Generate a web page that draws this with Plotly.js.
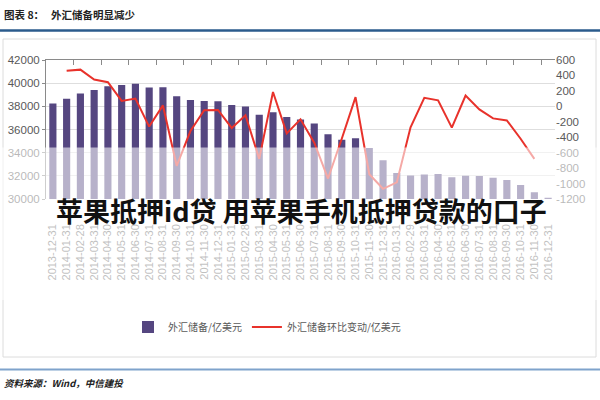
<!DOCTYPE html>
<html>
<head>
<meta charset="utf-8">
<script src="https://cdn.plot.ly/plotly-3.0.1.min.js"></script>
<style>html,body{margin:0;padding:0;background:#fff;}#chart{width:600px;height:400px;}</style>
</head>
<body>
<div id="chart"></div>
<script>
// ---- data ----
const dates = [
  "2013-12-31","2014-01-31","2014-02-28","2014-03-31","2014-04-30","2014-05-31","2014-06-30",
  "2014-07-31","2014-08-31","2014-09-30","2014-10-31","2014-11-30","2014-12-31",
  "2015-01-31","2015-02-28","2015-03-31","2015-04-30","2015-05-31","2015-06-30",
  "2015-07-31","2015-08-31","2015-09-30","2015-10-31","2015-11-30","2015-12-31",
  "2016-01-31","2016-02-29","2016-03-31","2016-04-30","2016-05-31","2016-06-30",
  "2016-07-31","2016-08-31","2016-09-30","2016-10-31","2016-11-30","2016-12-31"
];
const reserves = [
  38250, 38660, 39110, 39420, 39730, 39840, 39960, 39630, 39640, 38880, 38540, 38450, 38430,
  38120, 37990, 37270, 37480, 37080, 36870, 36520, 35580, 35120, 35250, 34410, 33340,
  32250, 32020, 32110, 32150, 31870, 32010, 31990, 31840, 31650, 31200, 30580, 30100
];
const change = [
  null, 460, 475, 348, 312, 70, 100, -262, 12, -770, -320, -50, -46,
  -280, -115, -680, 186, -350, -168, -470, -935, -420, 120, -880, -1068,
  -985, -272, 110, 78, -276, 140, -40, -156, -182, -420, -680, null
];
const seriesNames = ["外汇储备/亿美元", "外汇储备环比变动/亿美元"];
const leftTicks = [30000, 32000, 34000, 36000, 38000, 40000, 42000];
const rightTicks = [-1200, -1000, -800, -600, -400, -200, 0, 200, 400, 600];

const numFont = "Liberation Sans, Arial, sans-serif";
const cjkFont = "Noto Sans CJK SC, sans-serif";

// pixel helpers for paper coordinates (margins are 0, so paper == page)
const px = v => v / 600;
const py = v => 1 - v / 400;

const traces = [
  {
    type: "bar", name: seriesNames[0], x: dates, y: reserves,
    xaxis: "x", yaxis: "y",
    marker: {color: "#554680"}
  },
  {
    type: "scatter", mode: "lines", name: seriesNames[1], x: dates, y: change,
    xaxis: "x2", yaxis: "y2",
    line: {color: "#e8322b", width: 2}
  }
];

const layout = {
  width: 600, height: 400,
  margin: {l: 0, r: 0, t: 0, b: 0, pad: 0},
  paper_bgcolor: "#ffffff",
  plot_bgcolor: "rgba(0,0,0,0)",
  bargap: 0.48,
  showlegend: true,
  legend: {
    orientation: "h", x: px(128), xanchor: "left", y: py(327), yanchor: "middle",
    font: {family: cjkFont, size: 10, color: "#595959"},
    itemwidth: 30, bgcolor: "rgba(0,0,0,0)"
  },
  xaxis: {
    type: "category", domain: [px(46), px(555)], range: [-0.5, dates.length - 0.5],
    anchor: "y", side: "bottom", showline: false, ticks: "", showgrid: false,
    tickmode: "array", tickvals: dates, ticktext: dates,
    tickangle: -90, ticklabelstandoff: 22,
    tickfont: {family: numFont, size: 11, color: "#6a6a6a"}
  },
  xaxis2: {
    type: "category", overlaying: "x", anchor: "y2", side: "top",
    range: [-0.5, dates.length - 0.5],
    showline: true, linecolor: "#8a8a8a", linewidth: 1,
    ticks: "inside", tickson: "boundaries", ticklen: 5, tickcolor: "#8a8a8a",
    showticklabels: false, showgrid: false
  },
  yaxis: {
    domain: [py(199), py(60)], range: [30000, 42000],
    tickvals: leftTicks, ticktext: leftTicks.map(String),
    showline: true, linecolor: "#8a8a8a", ticks: "outside", ticklen: 3, tickcolor: "#8a8a8a",
    showgrid: true, gridcolor: "#dedede", gridwidth: 1, zeroline: false,
    tickfont: {family: numFont, size: 11.5, color: "#595959"}
  },
  yaxis2: {
    overlaying: "y", side: "right", anchor: "x", range: [-1200, 600],
    tickvals: rightTicks, ticktext: rightTicks.map(String),
    showline: false, ticks: "", showgrid: false, zeroline: false,
    tickfont: {family: numFont, size: 11.5, color: "#595959"}
  },
  shapes: [
    // chart frame
    {type: "rect", xref: "paper", yref: "paper", x0: px(3), x1: px(596), y0: py(357), y1: py(39),
     line: {color: "#dcdcdc", width: 1}, fillcolor: "rgba(0,0,0,0)", layer: "below"},
    // header rule
    {type: "line", xref: "paper", yref: "paper", x0: 0, x1: 1, y0: py(30.5), y1: py(30.5),
     line: {color: "#2b5b8c", width: 2.5}},
    // footer rule
    {type: "line", xref: "paper", yref: "paper", x0: 0, x1: 1, y0: py(369.5), y1: py(369.5),
     line: {color: "#7fa3cc", width: 2}},
    // translucent white veil over the lower part
    {type: "rect", xref: "paper", yref: "paper", x0: 0, x1: 1, y0: py(300), y1: py(147.5),
     fillcolor: "#ffffff", opacity: 0.58, line: {width: 0}, layer: "above"}
  ],
  annotations: [
    {xref: "paper", yref: "paper", x: px(2), y: py(14), xanchor: "left", yanchor: "middle",
     text: "图表 8：", showarrow: false,
     font: {family: cjkFont, size: 10.5, color: "#222", weight: "bold"}},
    {xref: "paper", yref: "paper", x: px(49), y: py(14), xanchor: "left", yanchor: "middle",
     text: "外汇储备明显减少", showarrow: false,
     font: {family: cjkFont, size: 10.5, color: "#222", weight: "bold"}},
    {xref: "paper", yref: "paper", x: px(2), y: py(383), xanchor: "left", yanchor: "middle",
     text: "<i>资料来源：Wind，中信建投</i>", showarrow: false,
     font: {family: cjkFont, size: 9.5, color: "#222", weight: "bold"}},
    {xref: "paper", yref: "paper", x: px(301), y: py(210), xanchor: "center", yanchor: "middle",
     text: "苹果抵押id贷 用苹果手机抵押贷款的口子", showarrow: false,
     font: {family: cjkFont, size: 27, color: "#111111", weight: "bold"}}
  ]
};

Plotly.newPlot("chart", traces, layout, {staticPlot: true, displayModeBar: false});
</script>
</body>
</html>
